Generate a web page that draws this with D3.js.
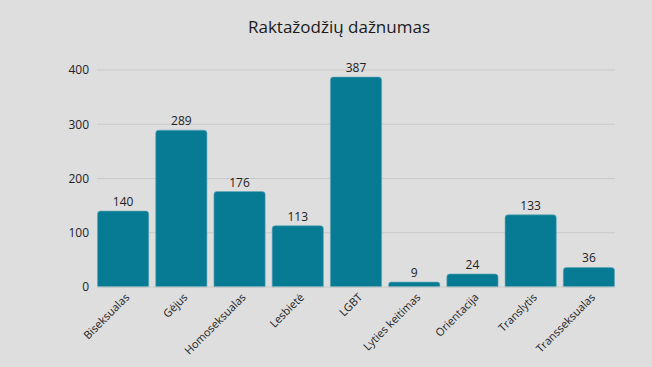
<!DOCTYPE html>
<html>
<head>
<meta charset="utf-8">
<script src="https://cdn.jsdelivr.net/npm/d3@7"></script>
<style>
  html, body { margin: 0; padding: 0; background: #dedede; }
  svg { display: block; font-family: "Open Sans", sans-serif; }
</style>
</head>
<body>
<svg id="chart" width="652" height="367"></svg>
<script>
const categories = ['Biseksualas', 'Gėjus', 'Homoseksualas', 'Lesbietė', 'LGBT',
  'Lyties keitimas', 'Orientacija', 'Translytis', 'Transseksualas'];
const counts = [140, 289, 176, 113, 387, 9, 24, 133, 36];
const yTicks = [0, 100, 200, 300, 400];
const title = 'Raktažodžių dažnumas';

const data = categories.map((name, i) => ({ name, value: counts[i] }));

const svg = d3.select('#chart');

const x = d3.scaleBand()
  .domain(categories)
  .range([94, 618])
  .paddingInner(0.12)
  .paddingOuter(0.06);

const y = d3.scaleLinear()
  .domain([0, 400])
  .range([287, 70]);

svg.append('rect')
  .attr('width', 652)
  .attr('height', 367)
  .attr('fill', '#dedede');

svg.append('text')
  .attr('x', 339)
  .attr('y', 33)
  .attr('text-anchor', 'middle')
  .attr('font-size', 17)
  .attr('fill', '#1a1a1a')
  .text(title);

// grid
svg.append('g')
  .selectAll('line')
  .data(yTicks.filter((d) => d > 0))
  .join('line')
  .attr('x1', 97)
  .attr('x2', 615)
  .attr('y1', (d) => y(d))
  .attr('y2', (d) => y(d))
  .attr('stroke', '#c9c9c9')
  .attr('stroke-width', 1);

// y axis labels
const yAxis = svg.append('g')
  .attr('transform', 'translate(89,0)')
  .call(d3.axisLeft(y).tickValues(yTicks).tickSize(0).tickPadding(0));
yAxis.select('.domain').remove();
yAxis.selectAll('text')
  .attr('font-family', '"Open Sans", sans-serif')
  .attr('font-size', 12)
  .attr('fill', '#222');

// bars with rounded top corners
function barPath(d) {
  const x0 = x(d.name);
  const w = x.bandwidth();
  const y0 = y(d.value);
  const y1 = y(0);
  const r = Math.min(3, (y1 - y0) / 2);
  return `M${x0},${y1}V${y0 + r}Q${x0},${y0} ${x0 + r},${y0}`
    + `H${x0 + w - r}Q${x0 + w},${y0} ${x0 + w},${y0 + r}V${y1}Z`;
}

svg.append('g')
  .selectAll('path')
  .data(data)
  .join('path')
  .attr('d', barPath)
  .attr('fill', '#087b94')
  .attr('stroke', '#5fa9ba')
  .attr('stroke-width', 0.6);

// baseline
svg.append('line')
  .attr('x1', 97)
  .attr('x2', 615)
  .attr('y1', y(0))
  .attr('y2', y(0))
  .attr('stroke', '#c9c9c9');

// value labels
svg.append('g')
  .selectAll('text')
  .data(data)
  .join('text')
  .attr('x', (d) => x(d.name) + x.bandwidth() / 2)
  .attr('y', (d) => y(d.value) - 5)
  .attr('text-anchor', 'middle')
  .attr('font-size', 12)
  .attr('fill', '#222')
  .text((d) => d.value);

// category labels
const xAxis = svg.append('g')
  .attr('transform', `translate(0,${y(0)})`)
  .call(d3.axisBottom(x).tickSize(0).tickPadding(0));
xAxis.select('.domain').remove();
xAxis.selectAll('text')
  .attr('font-family', '"Open Sans", sans-serif')
  .attr('font-size', 11)
  .attr('fill', '#222')
  .attr('text-anchor', 'end')
  .attr('dy', null)
  .attr('transform', 'translate(7,11) rotate(-45)');
</script>
</body>
</html>
